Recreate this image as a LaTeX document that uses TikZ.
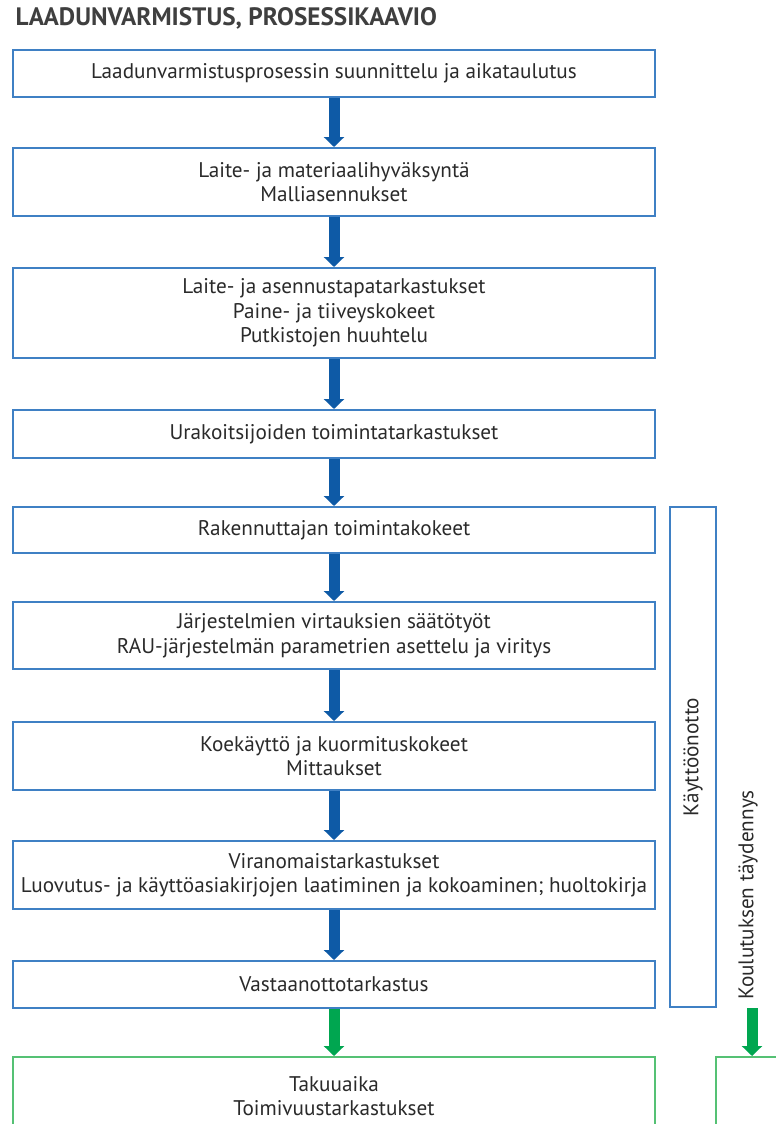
\documentclass[tikz,border=0pt]{standalone}
\usepackage{fontspec}
\setmainfont{PT Sans}
\usetikzlibrary{arrows.meta}
\definecolor{boxblue}{HTML}{3F80C4}
\definecolor{arrblue}{HTML}{0E5AA6}
\definecolor{boxgreen}{HTML}{55C174}
\definecolor{arrgreen}{HTML}{00A650}
\definecolor{txt}{HTML}{2A2A2A}
\begin{document}
\begin{tikzpicture}[x=1pt,y=-1pt]
  \tikzset{ b/.style={draw=boxblue,line width=2pt,fill=white,text=txt,align=center,
      minimum width=642pt,inner sep=0pt,font=\fontsize{21.2}{24.5}\selectfont},
    g/.style={b,draw=boxgreen},
    arr/.style={arrblue,line width=11pt,-{Triangle[width=20pt,length=10pt]}},
    garr/.style={arr,arrgreen},
  }
  \useasboundingbox (0,0) rectangle (776,1124);
  \node[anchor=west,text=txt!90,font=\fontsize{25.2}{28}\bfseries] (title) at (12,18) {LAADUNVARMISTUS, PROSESSIKAAVIO};

  \node[b,minimum height=47pt] (1) at (334,73.5) {Laadunvarmistusprosessin suunnittelu ja aikataulutus};
  \node[b,minimum height=68pt] (2) at (334,182) {Laite- ja materiaalihyväksyntä\\Malliasennukset};
  \node[b,minimum height=90pt] (3) at (334,313) {Laite- ja asennustapatarkastukset\\Paine- ja tiiveyskokeet\\Putkistojen huuhtelu};
  \node[b,minimum height=48pt] (4) at (334,434) {Urakoitsijoiden toimintatarkastukset};
  \node[b,minimum height=46pt] (5) at (334,530) {Rakennuttajan toimintakokeet};
  \node[b,minimum height=67pt] (6) at (334,635.5) {Järjestelmien virtauksien säätötyöt\\RAU-järjestelmän parametrien asettelu ja viritys};
  \node[b,minimum height=68pt] (7) at (334,756) {Koekäyttö ja kuormituskokeet\\Mittaukset};
  \node[b,minimum height=68pt] (8) at (334,875) {Viranomaistarkastukset\\Luovutus- ja käyttöasiakirjojen laatiminen ja kokoaminen; huoltokirja};
  \node[b,minimum height=47pt] (9) at (334,984.5) {Vastaanottotarkastus};
  \node[g,minimum height=78pt] (10) at (334,1096) {Takuuaika\\Toimivuustarkastukset};

  % side boxes
  \node[b,rotate=90,minimum width=500pt,minimum height=46pt] (kaytto) at (693,757) {Käyttöönotto};
  \node[rotate=90,text=txt,font=\fontsize{21.2}{24}\selectfont] (koulutus) at (748,895) {Koulutuksen täydennys};
  \node[g,minimum width=90pt,minimum height=78pt,anchor=west] (takuu2) at (715,1096) {};
  \coordinate (kstart) at (752,1008);

  % the arrows between the boxes
  \foreach \i/\j in {1/2,2/3,3/4,4/5,5/6,6/7,7/8,8/9}
    \draw[arr] (\i) -- (\j);
  \draw[garr] (9) -- (10);
  \draw[garr] (kstart) -- (kstart |- takuu2.north);
\end{tikzpicture}
\end{document}
